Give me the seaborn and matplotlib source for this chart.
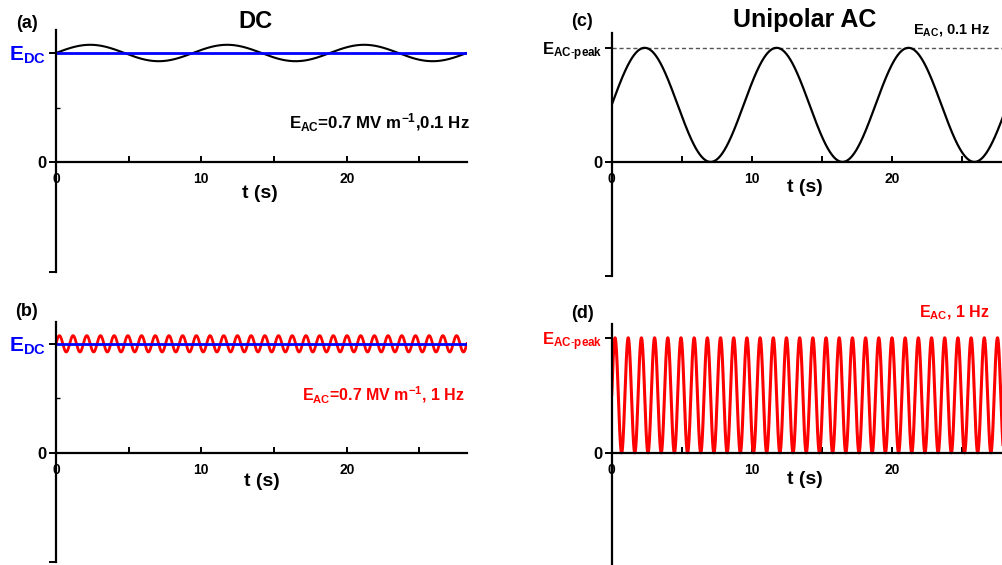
import numpy as np
import seaborn as sns
import matplotlib
matplotlib.use("Agg")
from matplotlib import pyplot as plt
from matplotlib.ticker import FixedLocator

sns.set_style("ticks")
plt.rcParams["font.family"] = ["Liberation Sans", "DejaVu Sans"]
plt.rcParams["mathtext.fontset"] = "custom"
plt.rcParams["mathtext.rm"] = "Liberation Sans"
plt.rcParams["mathtext.bf"] = "Liberation Sans:bold"
plt.rcParams["mathtext.it"] = "Liberation Sans:italic"
for key in ["text.color", "axes.labelcolor", "xtick.color", "ytick.color", "axes.edgecolor"]:
    plt.rcParams[key] = "black"

# values
duration = 28.27          # s, end of the traces
e_dc = 1.0                # DC level (relative)
ac_ripple = 0.075         # ripple amplitude on top of DC (relative to E_DC)
e_peak = 1.0              # unipolar AC peak (relative)
period_slow = 9.42        # s, the "0.1 Hz" trace
period_fast = 0.942       # s, the "1 Hz" trace
x_major = [0, 10, 20]
x_minor = [5, 15, 25]

W, H = 1003, 565
def px(x, y):
    return x / W, 1 - y / H

t = np.linspace(0, duration, 4000)
ripple_slow = e_dc + ac_ripple * np.sin(2 * np.pi * t / period_slow)
ripple_fast = e_dc + ac_ripple * np.sin(2 * np.pi * t / period_fast)
uni_slow = e_peak * (1 + np.sin(2 * np.pi * t / period_slow)) / 2
uni_fast = e_peak * (1 + np.sin(2 * np.pi * t / period_fast)) / 2

fig = plt.figure(figsize=(10.03, 5.65), dpi=100)
ax_a = fig.add_axes([0.0558, 0.5186, 0.4098, 0.4283])
ax_b = fig.add_axes([0.0558, 0.0053, 0.4098, 0.4248])
ax_c = fig.add_axes([0.6099, 0.5115, 0.3946, 0.4301])
ax_d = fig.add_axes([0.6099, -0.005, 0.3946, 0.4315])

def style_axis(ax, ylim, top_label, top_color, top_size):
    ax.set_xlim(0, duration)
    ax.set_ylim(*ylim)
    for s in ["top", "right"]:
        ax.spines[s].set_visible(False)
    ax.spines["bottom"].set_position(("data", 0))
    ax.spines["bottom"].set_linewidth(1.6)
    ax.spines["left"].set_linewidth(1.6)
    ax.xaxis.set_major_locator(FixedLocator(x_major))
    ax.xaxis.set_minor_locator(FixedLocator(x_minor))
    ax.set_xticklabels([str(v) for v in x_major], fontsize=10, fontweight="bold")
    ax.tick_params(axis="x", which="both", direction="in", length=4, width=1.4, pad=7)
    ax.set_yticks([-1, 0, 1])
    ax.set_yticklabels(["", "0", top_label])
    ax.tick_params(axis="y", which="major", direction="out", length=5, width=1.4, pad=2)
    labels = ax.get_yticklabels()
    labels[1].set_fontsize(12)
    labels[1].set_fontweight("bold")
    labels[2].set_fontsize(top_size)
    labels[2].set_color(top_color)
    ax.set_xlabel("")
    ax.set_ylabel("")

# (a) DC + slow ripple
sns.lineplot(x=t, y=ripple_slow, ax=ax_a, color="black", lw=1.5)
sns.lineplot(x=[0, duration], y=[e_dc, e_dc], ax=ax_a, color="#0000ff", lw=2)
style_axis(ax_a, (-1, 1.21), r"$\mathbf{E_{DC}}$", "#0000ff", 15)
ax_a.yaxis.set_minor_locator(FixedLocator([0.5]))
ax_a.tick_params(axis="y", which="minor", direction="in", length=3, width=1)

# (b) DC + fast ripple
sns.lineplot(x=t, y=ripple_fast, ax=ax_b, color="#ff0000", lw=2)
sns.lineplot(x=[0, duration], y=[e_dc, e_dc], ax=ax_b, color="#0000ff", lw=2)
style_axis(ax_b, (-1, 1.2), r"$\mathbf{E_{DC}}$", "#0000ff", 15)
ax_b.yaxis.set_minor_locator(FixedLocator([0.5]))
ax_b.tick_params(axis="y", which="minor", direction="in", length=3, width=1)

# (c) unipolar slow
ax_c.axhline(e_peak, color="#555555", lw=1, ls=(0, (3, 2)))
sns.lineplot(x=t, y=uni_slow, ax=ax_c, color="black", lw=1.6)
style_axis(ax_c, (-1, 1.13), r"$\mathbf{E_{AC\text{-}peak}}$", "black", 12)

# (d) unipolar fast
sns.lineplot(x=t, y=uni_fast, ax=ax_d, color="#ff0000", lw=2.2)
style_axis(ax_d, (-1, 1.12), r"$\mathbf{E_{AC\text{-}peak}}$", "#ff0000", 12)

# titles and panel letters
fig.text(*px(255, 22), "DC", ha="center", va="center", fontsize=17, fontweight="bold")
fig.text(*px(805, 20), "Unipolar AC", ha="center", va="center", fontsize=18, fontweight="bold")
for lab, x, y in [("(a)", 27, 23), ("(b)", 27, 312), ("(c)", 582, 22), ("(d)", 583, 313)]:
    fig.text(*px(x, y), lab, ha="center", va="center", fontsize=13, fontweight="bold")

# axis titles
for x, y in [(260, 194), (262, 482), (805, 188), (805, 480)]:
    fig.text(*px(x, y), "t (s)", ha="center", va="center", fontsize=14, fontweight="bold")

# annotations
fig.text(*px(470, 123), r"$\mathbf{E_{AC}}$=0.7 MV m$^{\mathbf{-1}}$,0.1 Hz",
         ha="right", va="center", fontsize=12.2, fontweight="bold", color="black")
fig.text(*px(465, 395), r"$\mathbf{E_{AC}}$=0.7 MV m$^{\mathbf{-1}}$, 1 Hz",
         ha="right", va="center", fontsize=11.5, fontweight="bold", color="#ff0000")
fig.text(*px(990, 30), r"$\mathbf{E_{AC}}$, 0.1 Hz",
         ha="right", va="center", fontsize=10.5, fontweight="bold", color="black")
fig.text(*px(990, 313), r"$\mathbf{E_{AC}}$, 1 Hz",
         ha="right", va="center", fontsize=11.5, fontweight="bold", color="#ff0000")

fig.savefig("out.png", dpi=100)
